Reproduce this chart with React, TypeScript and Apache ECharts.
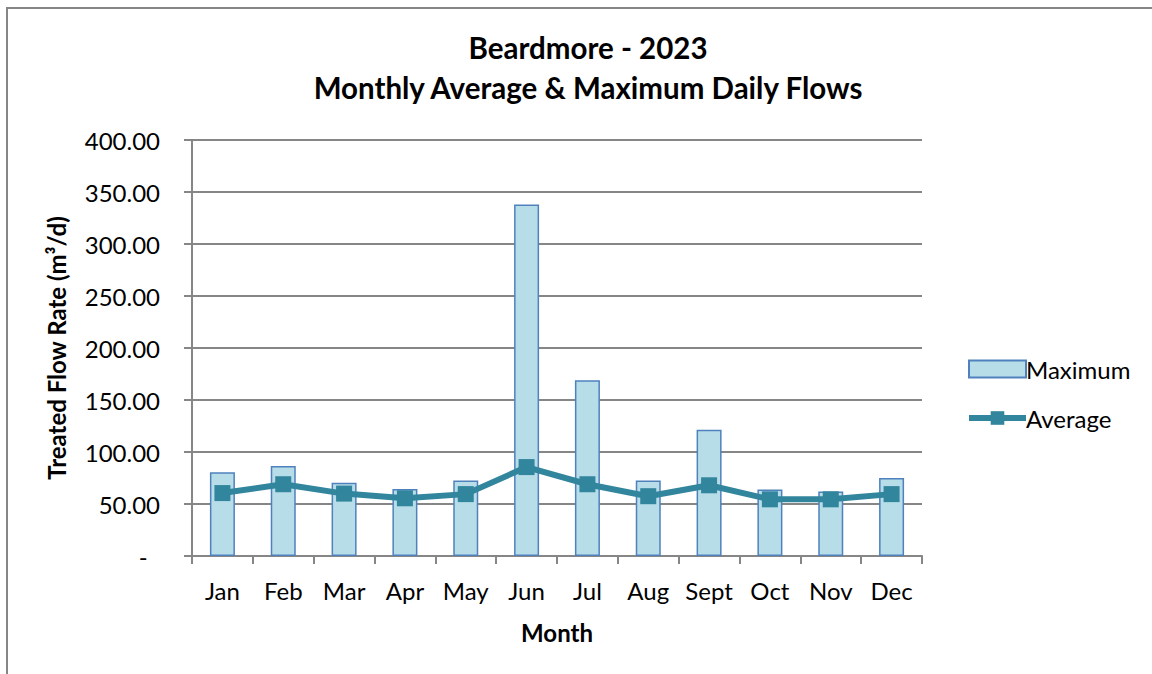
import React, { useEffect, useRef } from "react";
import * as echarts from "echarts";

const months = ["Jan", "Feb", "Mar", "Apr", "May", "Jun", "Jul", "Aug", "Sept", "Oct", "Nov", "Dec"];
const maximumFlow = [80.5, 86.5, 70.5, 64.5, 72.5, 338, 169, 72.5, 121.5, 64, 62, 75];
const averageFlow = [60.5, 69, 60, 55.5, 59.5, 85.5, 69, 57.5, 68, 54.5, 54.5, 59.5];
const yTicks = { min: 0, max: 400, interval: 50 };

const FONT = "Lato";

export default function App() {
  const ref = useRef<HTMLDivElement>(null);
  useEffect(() => {
    if (!ref.current) return;
    const chart = echarts.init(ref.current, undefined, { renderer: "svg" });
    chart.setOption({
      animation: false,
      backgroundColor: "#ffffff",
      textStyle: { fontFamily: FONT },
      title: {
        text: "Beardmore - 2023\nMonthly Average & Maximum Daily Flows",
        left: 583,
        top: 22,
        textAlign: "center",
        textStyle: { fontFamily: FONT, fontSize: 29.5, fontWeight: "bold", color: "#000", lineHeight: 40 },
      },
      graphic: [
        {
          type: "rect",
          shape: { x: 7, y: 8, width: 1300, height: 800 },
          style: { fill: "none", stroke: "#868686", lineWidth: 2 },
          silent: true,
        },
      ],
      legend: {
        orient: "vertical",
        left: 961,
        top: 352,
        itemWidth: 57,
        itemHeight: 17,
        itemGap: 25,
        textStyle: { fontFamily: FONT, fontSize: 24, color: "#000", padding: [0, 0, 0, -5] },
        data: [
          { name: "Maximum", icon: "rect" },
          { name: "Average", lineStyle: { width: 6, color: "#31859C" } },
        ],
      },
      grid: { left: 192, right: 230, top: 140, bottom: 118 },
      xAxis: {
        type: "category",
        data: months,
        axisLine: { lineStyle: { color: "#868686", width: 2 } },
        axisTick: { show: true, length: 8, alignWithLabel: false, interval: 0, lineStyle: { color: "#868686", width: 2 } },
        axisLabel: { margin: 22, fontFamily: FONT, fontSize: 24, color: "#000", interval: 0 },
        name: "Month",
        nameLocation: "middle",
        nameGap: 64,
        nameTextStyle: { fontFamily: FONT, fontSize: 24, fontWeight: "bold", color: "#000" },
      },
      yAxis: {
        type: "value",
        min: yTicks.min,
        max: yTicks.max,
        interval: yTicks.interval,
        axisLine: { show: true, lineStyle: { color: "#868686", width: 2 } },
        axisTick: { show: true, length: 8, lineStyle: { color: "#868686", width: 2 } },
        splitLine: { lineStyle: { color: "#868686", width: 2 } },
        axisLabel: {
          margin: 32,
          fontFamily: FONT,
          fontSize: 24,
          color: "#000",
          formatter: (v: number) => (v === 0 ? "-  " : v.toFixed(2)),
        },
        name: "Treated Flow Rate (m³/d)",
        nameLocation: "middle",
        nameGap: 124,
        nameRotate: 90,
        nameTextStyle: { fontFamily: FONT, fontSize: 24, fontWeight: "bold", color: "#000" },
      },
      series: [
        {
          name: "Maximum",
          type: "bar",
          data: maximumFlow,
          barWidth: 25,
          itemStyle: { color: "#B7DDE8", borderColor: "#4F81BD", borderWidth: 1.5 },
        },
        {
          name: "Average",
          type: "line",
          data: averageFlow,
          symbol: "rect",
          symbolSize: 16,
          lineStyle: { color: "#31859C", width: 6 },
          itemStyle: { color: "#31859C" },
        },
      ],
    });
    return () => chart.dispose();
  }, []);
  return <div ref={ref} style={{ position: "absolute", left: 0, top: 0, width: 1152, height: 674 }} />;
}
